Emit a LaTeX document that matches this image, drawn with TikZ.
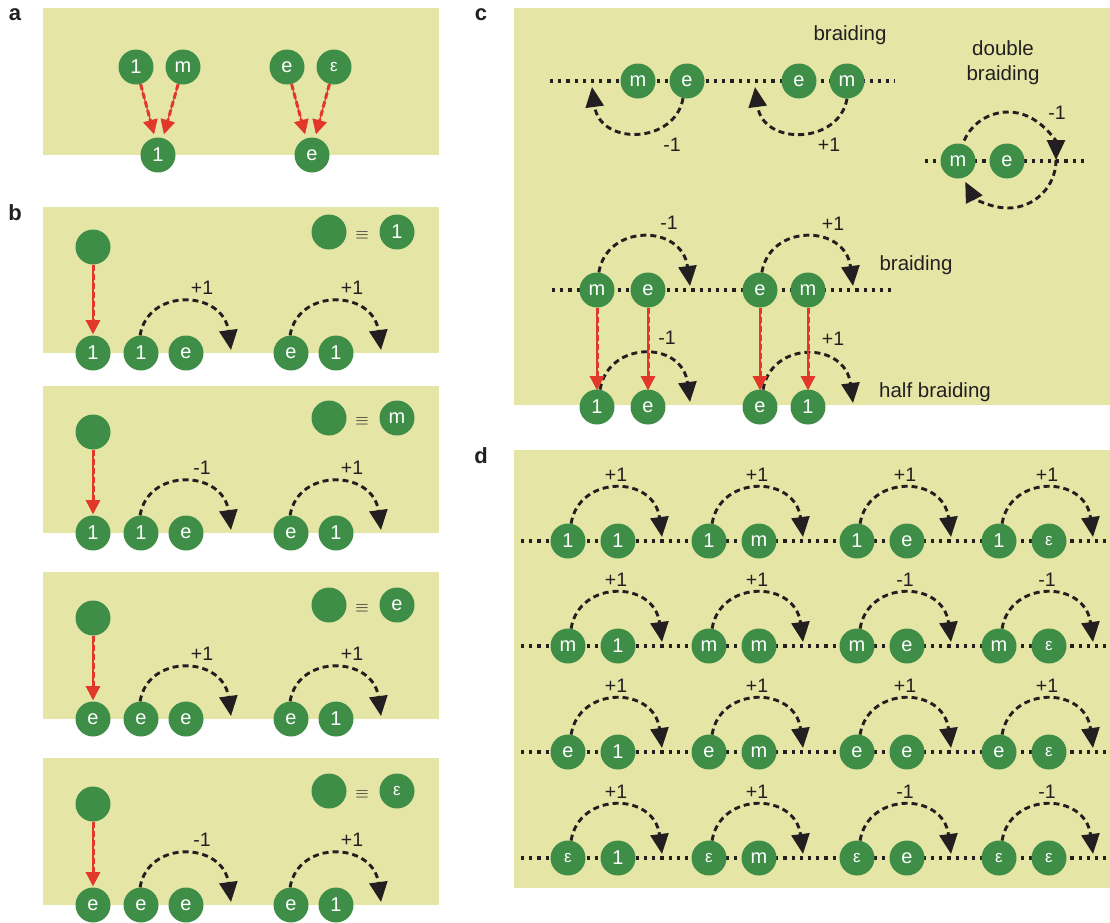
\documentclass[tikz,border=0pt]{standalone}
\usepackage{fontspec}
\setmainfont{Liberation Sans}
\usetikzlibrary{arrows.meta}
\definecolor{bgc}{RGB}{229,229,166}
\definecolor{anyg}{RGB}{62,142,72}
\definecolor{fred}{RGB}{225,56,42}
\definecolor{ink}{RGB}{35,31,32}
\newcommand\epsl{{\fontsize{17}{17}\selectfont ε}}
\begin{document}
\begin{tikzpicture}[x=1pt,y=-1pt,
  any/.style={circle,fill=anyg,minimum size=35pt,inner sep=0pt,text=white,font=\fontsize{20}{20}\selectfont},
  braid/.style={draw=ink,line width=2.9pt,dash pattern=on 6pt off 4pt,-{Triangle[length=20pt,width=18pt]}},
  fuse/.style={draw=fred,line width=3pt,dash pattern=on 6pt off 3pt,preaction={draw=fred,line width=1.2pt,solid},-{Triangle[length=14pt,width=14pt]}},
  dots/.style={draw=ink,line width=3.2pt,dash pattern=on 3.2pt off 5pt},
  num/.style={text=ink,font=\fontsize{19.5}{19.5}\selectfont,inner sep=0pt},
  word/.style={text=ink,font=\fontsize{20.5}{25}\selectfont,inner sep=0pt,align=center},
  panel/.style={text=ink,font=\fontsize{22}{22}\selectfont\bfseries,inner sep=0pt},
  box/.style={fill=bgc},
  equiv/.style={text=ink,font=\fontsize{19}{19}\selectfont,inner sep=0pt}
]
\useasboundingbox (0,0) rectangle (1110,922);

% ---------------- panel labels
\node[panel] (la) at (15,15) {a};
\node[panel] (lb) at (15,213) {b};
\node[panel] (lc) at (481,15) {c};
\node[panel] (ld) at (481,456) {d};

% ---------------- panel a
\fill[box] (43,8) rectangle (439,155);
\node[any] (a1) at (136,67) {1};
\node[any] (am) at (183,67) {m};
\node[any] (ae) at (287,67) {e};
\node[any] (aeps) at (334,67) {\epsl};
\node[any] (ab1) at (158,155) {1};
\node[any] (abe) at (312,155) {e};
\coordinate (at1) at (154,134);
\coordinate (at2) at (164,134);
\coordinate (at3) at (305,134);
\coordinate (at4) at (316,134);
\draw[fuse] (a1) -- (at1);
\draw[fuse] (am) -- (at2);
\draw[fuse] (ae) -- (at3);
\draw[fuse] (aeps) -- (at4);

% ---------------- panel b
\foreach \k/\T/\B/\by/\ly/\lg/\bl/\pa/\pb/\qa/\qb/\sa/\sb in {
 1/207/353/247/232/1/1/1/e/e/1/+1/+1,
 2/386/533/432/418/m/1/1/e/e/1/-1/+1,
 3/572/719/618/605/e/e/e/e/e/1/+1/+1,
 4/758/905/804/791/\epsl/e/e/e/e/1/-1/+1}{
  \fill[box] (43,\T) rectangle (439,\B);
  \node[any] (bbig\k) at (93,\by) {};
  \node[any] (bbot\k) at (93,\B) {\bl};
  \node[any] (bpa\k) at (141,\B) {\pa};
  \node[any] (bpb\k) at (186,\B) {\pb};
  \node[any] (bqa\k) at (291,\B) {\qa};
  \node[any] (bqb\k) at (336,\B) {\qb};
  \node[any] (bleg\k) at (329,\ly) {};
  \node[equiv] (beq\k) at (362,\ly+3) {$\equiv$};
  \node[any] (blab\k) at (397,\ly) {\lg};
  \coordinate (bft\k) at (93,\B-19);
  \draw[fuse] (bbig\k) -- (bft\k);
  \coordinate (bta\k) at (231,\B-3);
  \coordinate (btb\k) at (381,\B-3);
  \draw[braid] (bpa\k.93) .. controls +(8,-48) and +(-8,-60) .. (bta\k);
  \draw[braid] (bqa\k.93) .. controls +(8,-48) and +(-8,-60) .. (btb\k);
  \node[num] (bna\k) at (202,\B-65) {\sa};
  \node[num] (bnb\k) at (352,\B-65) {\sb};
}

% ---------------- panel c
\fill[box] (514,8) rectangle (1110,405);
% top row
\coordinate (ctl) at (550,81); \coordinate (ctr) at (895,81);
\draw[dots] (ctl) -- (ctr);
\node[any] (c1m) at (638,81) {m};
\node[any] (c1e) at (687,81) {e};
\node[any] (c2e) at (799,81) {e};
\node[any] (c2m) at (847,81) {m};
\coordinate (c1t) at (592,87);
\coordinate (c2t) at (755,87);
\draw[braid] (c1e.-103) .. controls +(-8,46) and +(8,59) .. (c1t);
\draw[braid] (c2m.-90) .. controls +(-8,46) and +(8,59) .. (c2t);
\node[num] (c1n) at (672,145) {-1};
\node[num] (c2n) at (829,145) {+1};
\node[word] (cw1) at (850,35) {braiding};
% double braiding
\node[word] (cw2) at (1003,63) {double\\braiding};
\coordinate (dbl) at (925,161); \coordinate (dbr) at (1085,161);
\draw[dots] (dbl) -- (dbr);
\node[any] (dbm) at (958,161) {m};
\node[any] (dbe) at (1007,161) {e};
\coordinate (dbc) at (1008,160);
\coordinate (dbs) at ([shift={(-156:48)}]dbc);
\coordinate (dbx) at ([shift={(0:48)}]dbc);
\draw[braid] (dbs) arc[start angle=-156,end angle=0,radius=48];
\draw[braid] (dbx) arc[start angle=0,end angle=153,radius=48];
\node[num] (dbn) at (1057,113) {-1};
% lower part
\coordinate (cbl) at (552,290); \coordinate (cbr) at (895,290);
\draw[dots] (cbl) -- (cbr);
\node[any] (c3m) at (597,290) {m};
\node[any] (c3e) at (648,290) {e};
\node[any] (c4e) at (760,290) {e};
\node[any] (c4m) at (808,290) {m};
\node[any] (c5a) at (597,407) {1};
\node[any] (c5b) at (648,407) {e};
\node[any] (c6a) at (760,407) {e};
\node[any] (c6b) at (808,407) {1};
\coordinate (c3t) at (690,286);
\coordinate (c4t) at (853,286);
\coordinate (c5t) at (690,402);
\coordinate (c6t) at (853,403);
\draw[braid] (c3m.84) .. controls +(8,-49) and +(-8,-62) .. (c3t);
\draw[braid] (c4e.84) .. controls +(8,-49) and +(-8,-62) .. (c4t);
\draw[braid] (c5a.80) .. controls +(8,-49) and +(-8,-62) .. (c5t);
\draw[braid] (c6a.80) .. controls +(8,-49) and +(-8,-62) .. (c6t);
\coordinate (cf1) at (597,390);
\coordinate (cf2) at (648,390);
\coordinate (cf3) at (760,390);
\coordinate (cf4) at (808,390);
\draw[fuse] (c3m) -- (cf1);
\draw[fuse] (c3e) -- (cf2);
\draw[fuse] (c4e) -- (cf3);
\draw[fuse] (c4m) -- (cf4);
\node[num] (c3n) at (669,223) {-1};
\node[num] (c4n) at (833,224) {+1};
\node[num] (c5n) at (667,338) {-1};
\node[num] (c6n) at (833,339) {+1};
\node[word] (cw3) at (916,265) {braiding};
\node[word] (cw4) at (935,392) {half braiding};

% ---------------- panel d
\fill[box] (514,450) rectangle (1110,888);
\foreach \r/\y in {1/541,2/646,3/752,4/858}{
  \coordinate (ddl\r) at (521,\y); \coordinate (ddr\r) at (1108,\y);
  \draw[dots] (ddl\r) -- (ddr\r);
}
\foreach \r/\c/\x/\y/\A/\Bb/\S in {
 1/1/568/541/1/1/+1, 1/2/709/541/1/m/+1, 1/3/857/541/1/e/+1, 1/4/999/541/1/\epsl/+1,
 2/1/568/646/m/1/+1, 2/2/709/646/m/m/+1, 2/3/857/646/m/e/-1, 2/4/999/646/m/\epsl/-1,
 3/1/568/752/e/1/+1, 3/2/709/752/e/m/+1, 3/3/857/752/e/e/+1, 3/4/999/752/e/\epsl/+1,
 4/1/568/858/\epsl/1/+1, 4/2/709/858/\epsl/m/+1, 4/3/857/858/\epsl/e/-1, 4/4/999/858/\epsl/\epsl/-1}{
  \node[any] (dl\r\c) at (\x,\y) {\A};
  \node[any] (dr\r\c) at (\x+50,\y) {\Bb};
  \coordinate (dt\r\c) at (\x+94,\y-4);
  \draw[braid] (dl\r\c.80) .. controls +(8,-49) and +(-8,-62) .. (dt\r\c);
  \node[num] (dn\r\c) at (\x+48,\y-66) {\S};
}
\end{tikzpicture}
\end{document}
